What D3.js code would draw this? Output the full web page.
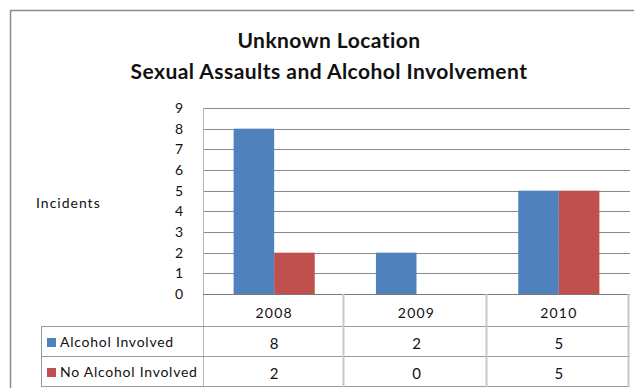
<!DOCTYPE html>
<html>
<head>
<meta charset="utf-8">
<script src="https://cdn.jsdelivr.net/npm/d3@7"></script>
<style>
  html, body { margin: 0; padding: 0; background: #fff; }
  svg { display: block; }
  text { font-family: Lato, "Open Sans", sans-serif; fill: #111; }
</style>
</head>
<body>
<svg id="chart" width="634" height="388"></svg>
<script>
// Incidents by year, split by alcohol involvement
const years = ["2008", "2009", "2010"];
const seriesNames = ["Alcohol Involved", "No Alcohol Involved"];
const alcoholInvolved = [8, 2, 5];
const noAlcoholInvolved = [2, 0, 5];
const yTicks = [0, 1, 2, 3, 4, 5, 6, 7, 8, 9];
const titleLines = ["Unknown Location", "Sexual Assaults and Alcohol Involvement"];
const colors = ["#4F81BD", "#C0504D"];

const series = [alcoholInvolved, noAlcoholInvolved];
const svg = d3.select("#chart");

// outer chart frame
svg.append("path")
  .attr("d", "M10.5,388 V10.5 H634")
  .attr("fill", "none").attr("stroke", "#8c8c8c").attr("stroke-width", 1.5);

// title
svg.selectAll("text.title").data(titleLines).enter().append("text")
  .attr("class", "title")
  .attr("x", 329).attr("y", (d, i) => 48 + i * 31)
  .attr("text-anchor", "middle")
  .style("font-size", "21px").style("font-weight", "bold").style("letter-spacing", "0.45px")
  .text(d => d);

const plotLeft = 203, plotRight = 630, plotTop = 108, plotBottom = 294;
const x = d3.scaleBand().domain(years).range([plotLeft, plotRight]);
const y = d3.scaleLinear().domain([0, 9]).range([plotBottom, plotTop]);
const bandInner = x.bandwidth() * 0.57;
const xs = d3.scaleBand().domain(d3.range(series.length)).range([0, bandInner]);

// gridlines
svg.append("g").selectAll("line").data(yTicks.filter(t => t > 0)).enter().append("line")
  .attr("x1", plotLeft).attr("x2", plotRight)
  .attr("y1", d => Math.round(y(d)) + 0.5).attr("y2", d => Math.round(y(d)) + 0.5)
  .attr("stroke", "#8a8a8a");

// y axis tick labels
const yAxis = d3.axisLeft(y).tickValues(yTicks).tickSize(0).tickPadding(20);
const gy = svg.append("g").attr("transform", `translate(${plotLeft},0)`).call(yAxis);
gy.select(".domain").remove();
gy.selectAll("text").style("font-size", "14px").style("font-family", "Lato, 'Open Sans', sans-serif").attr("fill", "#333");

// axis title
svg.append("text").attr("x", 36).attr("y", 208)
  .style("font-size", "14px").style("letter-spacing", "1px").text("Incidents");

// bars
const groups = svg.append("g").selectAll("g").data(years).enter().append("g")
  .attr("transform", d => `translate(${x(d) + (x.bandwidth() - bandInner) / 2},0)`);
groups.selectAll("rect").data((d, i) => series.map((s, k) => ({ k, v: s[i] }))).enter().append("rect")
  .attr("x", d => xs(d.k))
  .attr("width", xs.bandwidth())
  .attr("y", d => y(d.v))
  .attr("height", d => y(0) - y(d.v))
  .attr("fill", d => colors[d.k]);

// left axis line
svg.append("line").attr("x1", plotLeft + 0.5).attr("x2", plotLeft + 0.5).attr("y1", plotTop).attr("y2", 387)
  .attr("stroke", "#b5b5b5");
// baseline
svg.append("line").attr("x1", plotLeft).attr("x2", plotRight).attr("y1", plotBottom + 0.5).attr("y2", plotBottom + 0.5)
  .attr("stroke", "#7a7a7a");

// data table
const rowTop = [294, 327, 357, 387];
const tableLeft = 41;
const tg = svg.append("g");
// horizontal rules
rowTop.slice(1).forEach(yy => {
  tg.append("line").attr("x1", tableLeft).attr("x2", plotRight).attr("y1", yy - 0.5).attr("y2", yy - 0.5)
    .attr("stroke", "#9a9a9a");
});
tg.append("line").attr("x1", tableLeft + 0.5).attr("x2", tableLeft + 0.5).attr("y1", 327).attr("y2", 387)
  .attr("stroke", "#9a9a9a");
years.forEach(yr => {
  const xx = x(yr) + x.bandwidth();
  tg.append("line").attr("x1", Math.round(xx) - 1.5).attr("x2", Math.round(xx) - 1.5).attr("y1", 294).attr("y2", 387)
    .attr("stroke", "#c8c8c8").attr("stroke-width", 2);
});

// category labels
tg.selectAll("text.cat").data(years).enter().append("text")
  .attr("x", d => x(d) + x.bandwidth() / 2).attr("y", 318)
  .attr("text-anchor", "middle").style("font-size", "14px").style("letter-spacing", "1.2px")
  .text(d => d);

// series rows
const legendBase = [347, 377];
seriesNames.forEach((name, k) => {
  const base = legendBase[k];
  tg.append("rect").attr("x", 47).attr("y", base - 9).attr("width", 9).attr("height", 9).attr("fill", colors[k]);
  tg.append("text").attr("x", 60).attr("y", base).style("font-size", "14px").style("letter-spacing", "0.75px")
    .attr("fill", "#222").text(name);
  tg.selectAll(null).data(series[k]).enter().append("text")
    .attr("x", (d, i) => x(years[i]) + x.bandwidth() / 2).attr("y", base + 2)
    .attr("text-anchor", "middle").style("font-size", "15px").text(d => d);
});
</script>
</body>
</html>
